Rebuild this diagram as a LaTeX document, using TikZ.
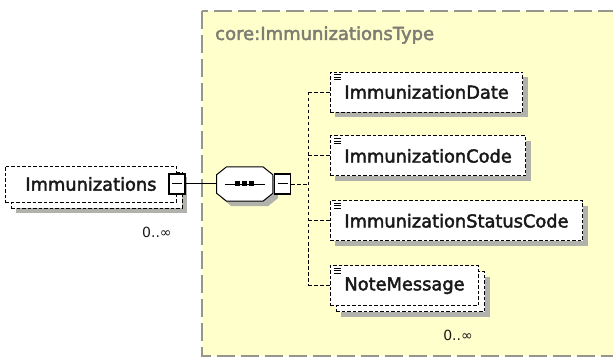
\documentclass[tikz,border=0pt]{standalone}
\usepackage{fontspec}
\setmainfont{DejaVu Sans}[AutoFakeBold=2.4]
\usetikzlibrary{positioning,calc,shadows}

\definecolor{typefill}{RGB}{255,255,204}
\definecolor{typeline}{RGB}{150,150,140}
\definecolor{typetext}{RGB}{125,125,115}
\definecolor{shadowgray}{RGB}{178,178,172}
\definecolor{nametext}{RGB}{25,25,25}

\begin{document}
\begin{tikzpicture}[x=1pt, y=-1pt,
    elembase/.style={rectangle, draw, dash pattern=on 3.5pt off 2pt, line width=0.9pt,
      fill=white, minimum height=40pt, inner xsep=14pt, text=nametext,
      font=\fontsize{17.8}{20}\selectfont\bfseries},
    elem/.style={elembase,
      general shadow={fill=shadowgray, shadow xshift=5pt, shadow yshift=-5pt}},
    multi/.style={elembase,
      general shadow={fill=shadowgray, shadow xshift=11pt, shadow yshift=-11pt},
      general shadow={fill=white, draw=black, dash pattern=on 3.5pt off 2pt,
        shadow xshift=6pt, shadow yshift=-6pt}},
    simple/.style={path picture={
      \foreach \dy in {2.5,5,7.5}
        \draw[line width=0.7pt, solid]
          ([shift={(4pt,-\dy pt)}]path picture bounding box.north west) -- +(7pt,0pt);}},
    collapse/.style={rectangle, draw, solid, line width=1.3pt, fill=white,
      minimum width=16pt, minimum height=20pt, inner sep=0pt,
      path picture={\draw[line width=1pt]
        ([xshift=3pt]path picture bounding box.west) --
        ([xshift=-3pt]path picture bounding box.east);}},
    seqbox/.style={rectangle, minimum width=56pt, minimum height=34pt, inner sep=0pt},
    seqline/.style={draw, line width=1pt, fill=white, line join=miter,
      general shadow={fill=shadowgray, shadow xshift=5pt, shadow yshift=-5pt}},
    occur/.style={text=nametext, font=\fontsize{14}{16}\selectfont, inner sep=1pt},
    typelabel/.style={text=typetext, font=\fontsize{18}{20}\selectfont\bfseries, inner sep=0pt},
    typebox/.style={fill=typefill, draw=typeline, line width=1.2pt,
      dash pattern=on 18pt off 6pt},
    link/.style={draw, line width=1pt},
    dashlink/.style={draw, line width=0.9pt, dash pattern=on 3.5pt off 2.5pt}]

    \useasboundingbox (0,0) rectangle (613,358);

    % complex type area
    \path[typebox] (202,11) rectangle (640,356);
    \node[typelabel, anchor=west] (typename) at (215,35) {core:ImmunizationsType};

    % parent element and sequence
    \node[multi, minimum width=171pt, minimum height=36pt, anchor=west] (immun) at (5,184) {Immunizations};
    \node[collapse] (immunminus) at (immun.east) {};
    \node[occur] (immunocc) at ([shift={(-20pt,-30pt)}]immun.south east) {0..∞};
    \node[seqbox, right=31pt of immunminus] (seq) {};
    \path[seqline] ([xshift=10pt]seq.north west) -- ([xshift=-10pt]seq.north east)
      -- ([yshift=-8pt]seq.north east) -- ([yshift=8pt]seq.south east)
      -- ([xshift=-10pt]seq.south east) -- ([xshift=10pt]seq.south west)
      -- ([yshift=8pt]seq.south west) -- ([yshift=-8pt]seq.north west) -- cycle;
    \node[collapse, right=1pt of seq] (seqminus) {};
    \coordinate[right=17pt of seqminus] (bus);

    \draw[line width=0.9pt] ([xshift=-20pt]seq.center) -- ([xshift=20pt]seq.center);
    \foreach \dx in {-7,0,7}
      \fill ([shift={(\dx pt-2.5pt,-2.5pt)}]seq.center) rectangle +(5pt,5pt);

    % child elements
    \node[elem, simple, anchor=west] (date) at (330,92) {ImmunizationDate};
    \node[elem, simple, below=23pt of date.south west, anchor=north west] (code) {ImmunizationCode};
    \node[elem, simple, below=24pt of code.south west, anchor=north west] (status) {ImmunizationStatusCode};
    \node[multi, simple, below=24pt of status.south west, anchor=north west] (note) {NoteMessage};
    \node[occur] (noteocc) at ([shift={(-21pt,-29pt)}]note.south east) {0..∞};

    % connectors
    \draw[link] (immunminus.east) -- (seq.west);
    \draw[dashlink] (seqminus.east) -- (bus);
    \draw[dashlink] (bus |- date.west) -- (bus |- note.west);
    \foreach \c in {date,code,status,note}
      \draw[dashlink] (bus |- \c.west) -- (\c.west);
\end{tikzpicture}
\end{document}
